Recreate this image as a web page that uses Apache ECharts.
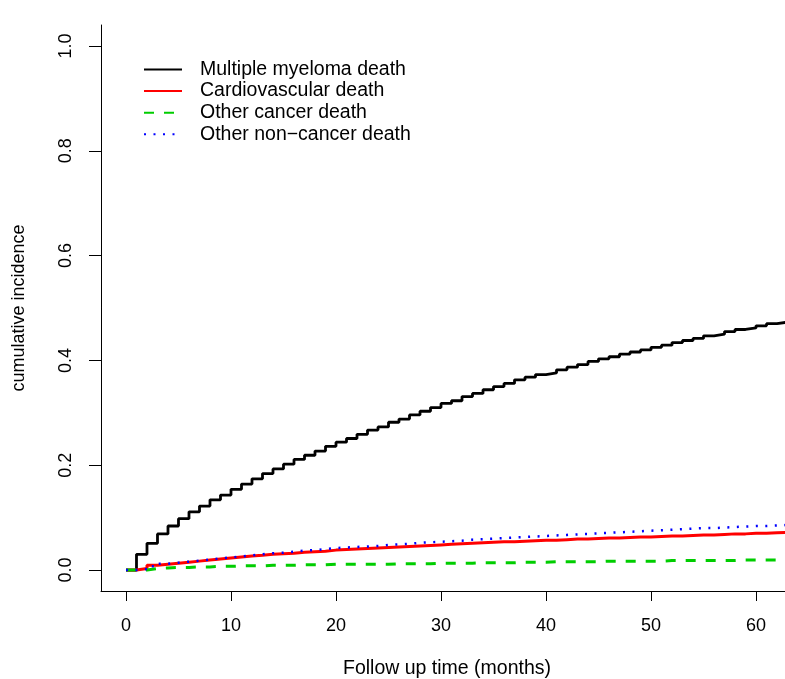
<!DOCTYPE html>
<html>
<head>
<meta charset="utf-8">
<script src="https://cdn.jsdelivr.net/npm/echarts@6/dist/echarts.min.js"></script>
<style>
html,body{margin:0;padding:0;background:#fff;}
#chart{width:785px;height:679px;}
</style>
</head>
<body>
<div id="chart"></div>
<script>
// Follow-up months (step times)
const months = [0,1,2,3,4,5,6,7,8,9,10,11,12,13,14,15,16,17,18,19,20,21,22,23,24,25,26,27,28,29,30,31,32,33,34,35,36,37,38,39,40,41,42,43,44,45,46,47,48,49,50,51,52,53,54,55,56,57,58,59,60,61,62,63];

const myelomaDeath = [0,0.030,0.051,0.069,0.084,0.098,0.111,0.122,0.134,0.143,0.154,0.164,0.174,0.184,0.193,0.202,0.211,0.219,0.227,0.236,0.244,0.251,0.259,0.267,0.273,0.282,0.288,0.296,0.303,0.310,0.318,0.323,0.331,0.337,0.344,0.350,0.356,0.363,0.368,0.373,0.376,0.382,0.387,0.392,0.398,0.403,0.407,0.412,0.416,0.420,0.425,0.429,0.434,0.438,0.442,0.447,0.450,0.455,0.459,0.462,0.466,0.470,0.473,0.473];

const cardiovascularDeath = [0,0.003,0.009,0.011,0.013,0.015,0.017,0.019,0.021,0.023,0.025,0.027,0.028,0.030,0.031,0.032,0.034,0.035,0.036,0.038,0.039,0.040,0.041,0.042,0.043,0.044,0.045,0.046,0.047,0.048,0.049,0.050,0.051,0.052,0.053,0.054,0.054,0.055,0.056,0.057,0.057,0.058,0.059,0.059,0.060,0.061,0.061,0.062,0.063,0.063,0.064,0.065,0.065,0.066,0.067,0.067,0.068,0.069,0.069,0.070,0.070,0.071,0.072,0.072];

const otherCancerDeath = [0,0,0.003,0.004,0.005,0.005,0.006,0.006,0.007,0.007,0.008,0.008,0.008,0.009,0.009,0.009,0.010,0.010,0.010,0.011,0.011,0.011,0.011,0.011,0.011,0.012,0.012,0.012,0.012,0.013,0.013,0.013,0.013,0.014,0.014,0.014,0.014,0.015,0.015,0.015,0.016,0.016,0.016,0.016,0.016,0.017,0.017,0.017,0.017,0.017,0.017,0.018,0.018,0.018,0.018,0.018,0.018,0.018,0.019,0.019,0.019,0.019,0.019,0.019];

const otherNonCancerDeath = [0,0.002,0.007,0.012,0.014,0.016,0.018,0.020,0.022,0.024,0.026,0.028,0.030,0.032,0.033,0.035,0.037,0.038,0.040,0.042,0.043,0.044,0.045,0.046,0.048,0.049,0.050,0.052,0.053,0.054,0.055,0.056,0.058,0.059,0.060,0.061,0.062,0.063,0.064,0.065,0.066,0.067,0.068,0.069,0.070,0.071,0.072,0.073,0.074,0.075,0.076,0.077,0.078,0.079,0.080,0.080,0.081,0.082,0.083,0.084,0.084,0.085,0.086,0.086];

const seriesNames = ['Multiple myeloma death','Cardiovascular death','Other cancer death','Other non\u2212cancer death'];
const xTicks = [0,10,20,30,40,50,60];
const yTicks = [0,0.2,0.4,0.6,0.8,1.0];

const FONT = '"Liberation Sans", Arial, Helvetica, sans-serif';
const pairs = vals => months.map((t,i)=>[t, vals[i]]);

const chart = echarts.init(document.getElementById('chart'), null, {renderer:'canvas'});
chart.setOption({
  animation:false,
  backgroundColor:'#ffffff',
  grid:{left:101, right:0, top:25, bottom:88, containLabel:false, outerBoundsMode:'none'},
  legend:{
    orient:'vertical', left:143, top:59, padding:0,
    itemWidth:38, itemHeight:14, itemGap:0.6,
    itemStyle:{opacity:0},
    textStyle:{fontFamily:FONT, fontSize:19.5, lineHeight:21, color:'#000', padding:[0,0,0,13]},
    data:seriesNames
  },
  xAxis:{
    type:'value', min:-2.38, max:62.76,
    axisLine:{show:true, onZero:false, lineStyle:{color:'#000', width:1}},
    axisTick:{show:true, length:10, customValues:xTicks, lineStyle:{color:'#000', width:1}},
    axisLabel:{customValues:xTicks, margin:26, color:'#000', fontFamily:FONT, fontSize:18},
    splitLine:{show:false},
    name:'Follow up time (months)', nameLocation:'middle', nameGap:68,
    nameTextStyle:{fontFamily:FONT, fontSize:19.5, color:'#000', padding:[0,0,0,8]}
  },
  yAxis:{
    type:'value', min:-0.04, max:1.04,
    axisLine:{show:true, onZero:false, lineStyle:{color:'#000', width:1}},
    axisTick:{show:true, length:12, customValues:yTicks, lineStyle:{color:'#000', width:1}},
    axisLabel:{customValues:yTicks, rotate:90, margin:26, color:'#000', fontFamily:FONT, fontSize:18,
      formatter:v=>v.toFixed(1)},
    splitLine:{show:false},
    name:'cumulative incidence', nameLocation:'middle', nameGap:73,
    nameTextStyle:{fontFamily:FONT, fontSize:18, color:'#000'}
  },
  series:[
    {name:seriesNames[0], type:'line', step:'end', symbol:'none', data:pairs(myelomaDeath),
      lineStyle:{color:'#000000', width:2.8}, itemStyle:{color:'#000000'}},
    {name:seriesNames[1], type:'line', step:'end', symbol:'none', data:pairs(cardiovascularDeath),
      lineStyle:{color:'#ff0000', width:3}, itemStyle:{color:'#ff0000'}},
    {name:seriesNames[2], type:'line', step:'end', symbol:'none', data:pairs(otherCancerDeath),
      lineStyle:{color:'#00cd00', width:3, type:[10,10]}, itemStyle:{color:'#00cd00'}},
    {name:seriesNames[3], type:'line', step:'end', symbol:'none', data:pairs(otherNonCancerDeath),
      lineStyle:{color:'#0000ff', width:2.5, type:[2,7.5]}, itemStyle:{color:'#0000ff'}}
  ]
});
</script>
</body>
</html>
